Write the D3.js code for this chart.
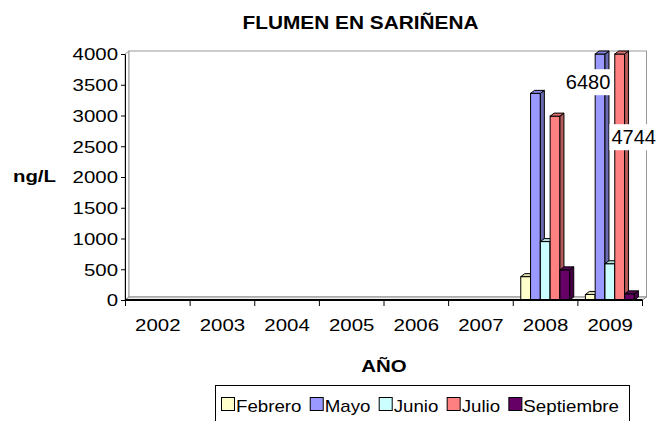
<!DOCTYPE html>
<html>
<head>
<meta charset="utf-8">
<script src="https://cdn.jsdelivr.net/npm/d3@7"></script>
<style>
  body { margin: 0; background: #fff; }
  text { font-family: Arial, "Liberation Sans", sans-serif; fill: #000; }
</style>
</head>
<body>
<svg id="chart" width="659" height="421"></svg>
<script>
// Flumen en Sariñena, ng/L by year and sampling month

var years = ["2002", "2003", "2004", "2005", "2006", "2007", "2008", "2009"];
var months = ["Febrero", "Mayo", "Junio", "Julio", "Septiembre"];

var febrero    = [0, 0, 0, 0, 0, 0, 380, 90];
var mayo       = [0, 0, 0, 0, 0, 0, 3360, 6480];
var junio      = [0, 0, 0, 0, 0, 0, 950, 590];
var julio      = [0, 0, 0, 0, 0, 0, 2990, 4744];
var septiembre = [0, 0, 0, 0, 0, 0, 490, 100];

var yTicks = [0, 500, 1000, 1500, 2000, 2500, 3000, 3500, 4000];
var yMax = 4000;

var colors = ["#FFFFCC", "#9999FF", "#CCFFFF", "#FF8080", "#660066"];

var seriesValues = [febrero, mayo, junio, julio, septiembre];

var data = months.map(function(m, i) {
  return {
    id: m,
    Values: years.map(function(yr, j) {
      return { year: yr, value: seriesValues[i][j] };
    })
  };
});

var svg = d3.select("#chart");

// stretch text wider, like the reference
function stretch(sel, k) {
  sel.each(function() {
    var w = this.getComputedTextLength();
    d3.select(this).attr("textLength", w * k).attr("lengthAdjust", "spacingAndGlyphs");
  });
}

var x0 = d3.scaleBand().domain(years).range([125.5, 642.5]);
var x1 = d3.scaleBand().domain(months).range([7.5, 56.5]);
var y_scale = d3.scaleLinear().domain([0, yMax]).range([300, 54]);
var z = d3.scaleOrdinal().domain(months).range(colors);

var dx = 4, dy = 3;           // 3d depth
var axisX = x0.range()[0] - 0.5;
var xRight = x0.range()[1];
var yBottom = y_scale(0), yTop = y_scale(yMax);

// walls + floor
svg.append("polygon")
  .attr("points", [[axisX, yTop], [axisX + dx, yTop - dy], [axisX + dx, yBottom - dy], [axisX, yBottom]].join(" "))
  .attr("fill", "#fff").attr("stroke", "#999");

svg.append("rect")
  .attr("x", axisX + dx).attr("y", yTop - dy)
  .attr("width", xRight - axisX).attr("height", yBottom - yTop)
  .attr("fill", "#fff").attr("stroke", "#999");

svg.append("polygon")
  .attr("points", [[axisX, yBottom], [axisX + dx, yBottom - dy], [xRight + dx, yBottom - dy], [xRight, yBottom]].join(" "))
  .attr("fill", "#eee").attr("stroke", "#888");

// bars
var bars = svg.append("g").attr("class", "bars");
data.forEach(function(s) {
  s.Values.forEach(function(d) {
    if (d.value <= 0) return;
    var v = Math.min(d.value, yMax);
    var x = x0(d.year) + x1(s.id);
    var w = x1.bandwidth();
    var yt = y_scale(v);
    var c = z(s.id);
    var g = bars.append("g");
    g.append("rect")
      .attr("x", x).attr("y", yt).attr("width", w).attr("height", yBottom - yt)
      .attr("fill", c).attr("stroke", "#000").attr("stroke-width", 1);
    g.append("polygon")
      .attr("points", [[x + w, yt], [x + w + dx, yt - dy], [x + w + dx, yBottom - dy], [x + w, yBottom]].join(" "))
      .attr("fill", d3.color(c).darker(1.0)).attr("stroke", "#000").attr("stroke-width", 1);
    g.append("polygon")
      .attr("points", [[x, yt], [x + dx, yt - dy], [x + w + dx, yt - dy], [x + w, yt]].join(" "))
      .attr("fill", d3.color(c).darker(0.4)).attr("stroke", "#000").attr("stroke-width", 1);
  });
});

// y axis
var yAxis = d3.axisLeft(y_scale).tickValues(yTicks).tickFormat(d3.format("d"))
  .tickSize(4).tickSizeOuter(0).tickPadding(3);
var gy = svg.append("g")
  .attr("transform", "translate(" + axisX + ",0)")
  .call(yAxis);
gy.select(".domain").attr("stroke", "#000");
gy.selectAll("line").attr("stroke", "#000");
gy.selectAll("text")
  .attr("font-size", 17).attr("font-family", "Arial, 'Liberation Sans', sans-serif")
  .attr("dy", "0.35em");
stretch(gy.selectAll("text"), 1.2);

// x axis
svg.append("line")
  .attr("x1", axisX).attr("x2", xRight).attr("y1", yBottom).attr("y2", yBottom)
  .attr("stroke", "#000").attr("stroke-width", 2);

var bounds = years.map(function(d) { return x0(d); }).concat([xRight]);
svg.selectAll(".xtick").data(bounds).enter().append("line")
  .attr("class", "xtick")
  .attr("x1", function(d) { return d; }).attr("x2", function(d) { return d; })
  .attr("y1", yBottom).attr("y2", yBottom + 6)
  .attr("stroke", "#000");

var xl = svg.selectAll(".xlabel").data(years).enter().append("text")
  .attr("class", "xlabel")
  .attr("x", function(d) { return x0(d) + x0.bandwidth() / 2; })
  .attr("y", 331)
  .attr("text-anchor", "middle")
  .attr("font-size", 17)
  .text(function(d) { return d; });
stretch(xl, 1.2);

// overflow labels (values beyond the axis)
var overflow = [
  { id: "Mayo", year: "2009", ox: -12, oy: 28 },
  { id: "Julio", year: "2009", ox: 14, oy: 83 }
];
overflow.forEach(function(o) {
  var s = data.filter(function(d) { return d.id === o.id; })[0];
  var val = s.Values.filter(function(d) { return d.year === o.year; })[0].value;
  var cx = x0(o.year) + x1(o.id) + x1.bandwidth() / 2 + o.ox;
  var cy = yTop + o.oy;
  var g = svg.append("g");
  var t = g.append("text")
    .attr("x", cx).attr("y", cy).attr("dy", "0.36em")
    .attr("text-anchor", "middle").attr("font-size", 20)
    .text(val);
  var bb = t.node().getBBox();
  g.insert("rect", "text")
    .attr("x", bb.x - 2).attr("y", bb.y - 2)
    .attr("width", bb.width + 4).attr("height", bb.height + 4)
    .attr("fill", "#fff");
});

// titles
svg.append("text")
  .attr("x", 360.5).attr("y", 29)
  .attr("text-anchor", "middle")
  .attr("font-size", 19).attr("font-weight", "bold")
  .attr("textLength", 236).attr("lengthAdjust", "spacingAndGlyphs")
  .text("FLUMEN EN SARIÑENA");

var yt = svg.append("text")
  .attr("x", 34.5).attr("y", 182)
  .attr("text-anchor", "middle")
  .attr("font-size", 17).attr("font-weight", "bold")
  .text("ng/L");
stretch(yt, 1.2);

var xt = svg.append("text")
  .attr("x", 384).attr("y", 371.5)
  .attr("text-anchor", "middle")
  .attr("font-size", 17).attr("font-weight", "bold")
  .text("AÑO");
stretch(xt, 1.2);

// legend
var legLeft = 215, legRight = 629;
var legend = svg.append("g");
legend.append("rect")
  .attr("x", legLeft + 0.5).attr("y", 385.5)
  .attr("width", legRight - legLeft).attr("height", 50)
  .attr("fill", "#fff").attr("stroke", "#000");

var items = months.map(function(m) {
  var g = legend.append("g");
  g.append("rect")
    .attr("x", 0.5).attr("y", 397.5)
    .attr("width", 13).attr("height", 13)
    .attr("fill", z(m)).attr("stroke", "#000");
  var t = g.append("text")
    .attr("x", 15).attr("y", 412)
    .attr("font-size", 17)
    .text(m);
  stretch(t, 1.1);
  return { g: g, w: 15 + (+t.attr("textLength")) };
});
var pad = 6;
var total = d3.sum(items, function(d) { return d.w; });
var gap = (legRight - legLeft - 2 * pad - 4 - total) / (items.length - 1);
var cursor = legLeft + pad;
items.forEach(function(it) {
  it.g.attr("transform", "translate(" + cursor + ",0)");
  cursor += it.w + gap;
});
</script>
</body>
</html>
